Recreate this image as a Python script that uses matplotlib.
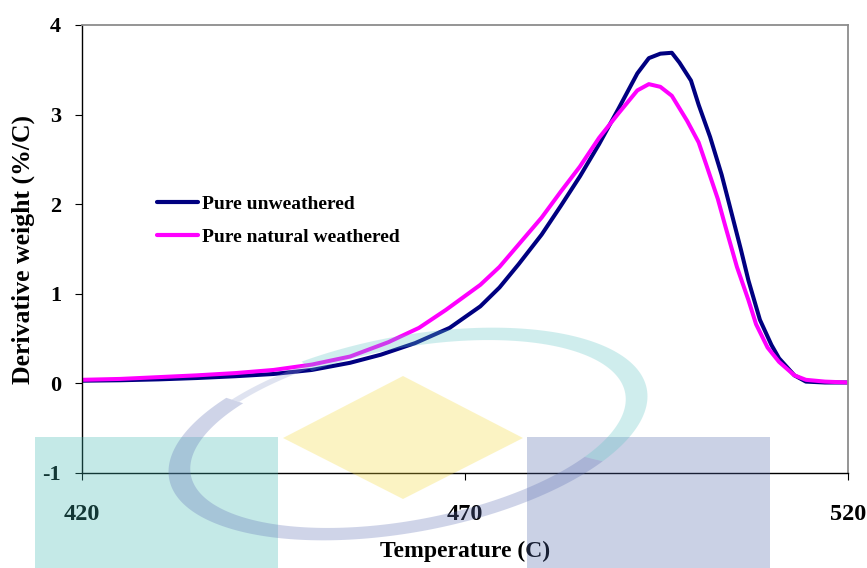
import numpy as np
import matplotlib
matplotlib.use("Agg")
import matplotlib.pyplot as plt
from matplotlib.patches import Rectangle, Polygon

# ---- data ----
temp_unweathered = [420, 425, 430, 435, 440, 445, 450, 455, 459, 463.5, 468, 472,
                    474.5, 477, 480, 482.5, 485, 487.5, 490, 492.5, 494, 495.5, 497,
                    498, 499.5, 500.5, 502, 503.5, 504.5, 506, 507, 508.5, 510, 511,
                    513, 514.5, 517, 520]
dw_unweathered = [0.03, 0.035, 0.045, 0.06, 0.08, 0.105, 0.15, 0.23, 0.32, 0.45, 0.62, 0.86,
                  1.07, 1.33, 1.66, 1.98, 2.31, 2.67, 3.06, 3.46, 3.63, 3.68, 3.69,
                  3.58, 3.38, 3.11, 2.75, 2.33, 2.00, 1.50, 1.15, 0.71, 0.43, 0.28,
                  0.09, 0.02, 0.01, 0.01]

temp_natural = [420, 425, 430, 435, 440, 445, 450, 455, 460, 464, 467.5, 472,
                474.5, 477, 480, 482.5, 485, 487.5, 490, 492.5, 494, 495.5, 497,
                499, 500.5, 501.5, 503, 504, 505.5, 507, 508, 509.5, 511, 513,
                514.5, 517, 520]
dw_natural = [0.04, 0.05, 0.07, 0.09, 0.115, 0.15, 0.21, 0.30, 0.46, 0.62, 0.82, 1.10,
              1.30, 1.55, 1.85, 2.14, 2.42, 2.74, 3.01, 3.27, 3.34, 3.31, 3.21,
              2.93, 2.69, 2.44, 2.06, 1.75, 1.30, 0.93, 0.66, 0.40, 0.24, 0.09,
              0.04, 0.02, 0.01]

labels = ["Pure unweathered", "Pure natural weathered"]
colors = ["#000080", "#FF00FF"]
x_ticks = [420, 470, 520]
y_ticks = [-1, 0, 1, 2, 3, 4]

W, H = 867, 568
serif = ["Liberation Serif", "DejaVu Serif"]

fig = plt.figure(figsize=(W / 100, H / 100), dpi=100)
ax = fig.add_axes([82 / W, (H - 473) / H, (848 - 82) / W, (473 - 25) / H])

ax.plot(temp_unweathered, dw_unweathered, color=colors[0], lw=2.9,
        solid_capstyle="round", solid_joinstyle="round", label=labels[0])
ax.plot(temp_natural, dw_natural, color=colors[1], lw=2.9,
        solid_capstyle="round", solid_joinstyle="round", label=labels[1])

ax.set_xlim(420, 520)
ax.set_ylim(-1, 4)
ax.set_xticks(x_ticks)
ax.set_yticks(y_ticks)
ax.set_xticklabels([str(t) for t in x_ticks], fontfamily=serif,
                   fontweight="bold", fontsize=17.5)
ax.set_yticklabels([str(t) for t in y_ticks], fontfamily=serif,
                   fontweight="bold", fontsize=16)
ax.tick_params(axis="x", direction="out", length=5, width=0.8, pad=17)
ax.tick_params(axis="y", direction="out", length=5, width=0.8, pad=10)

for side in ("left", "bottom"):
    ax.spines[side].set_color("black")
    ax.spines[side].set_linewidth(1.0)
for side in ("top", "right"):
    ax.spines[side].set_color("#8c8c8c")
    ax.spines[side].set_linewidth(1.3)

ax.set_xlabel("Temperature (C)", fontfamily=serif, fontweight="bold", fontsize=17)
ax.set_ylabel("Derivative weight (%/C)", fontfamily=serif, fontweight="bold", fontsize=18.5)
ax.xaxis.set_label_coords(0.5, (H - 551 - 95) / 448)
ax.xaxis.label.set_va("center")
ax.yaxis.set_label_coords((23 - 82) / 766, 0.5)
ax.yaxis.label.set_va("center")

leg = ax.legend(loc="upper left", bbox_to_anchor=(157 / W, 1 - 195 / H),
                bbox_transform=fig.transFigure, frameon=False,
                prop={"family": serif, "weight": "bold", "size": 14},
                handlelength=2.1, handletextpad=0.2, labelspacing=0.8,
                borderpad=0, borderaxespad=0)
for ln in leg.get_lines():
    ln.set_linewidth(3.0)

# ---- translucent emblem layered over the chart ----
wm = fig.add_axes([0, 0, 1, 1], zorder=10)
wm.set_xlim(0, W)
wm.set_ylim(H, 0)
wm.axis("off")
wm.patch.set_alpha(0)

a_wm = 0.3


def tint(rgb):
    # colour that lands on `rgb` when laid over white at alpha a_wm
    return tuple(np.clip((np.array(rgb) - (1 - a_wm) * 255) / a_wm, 0, 255) / 255)


wm.add_patch(Rectangle((35, 437), 243, 131, facecolor=tint((197, 234, 232)),
                       edgecolor="none", alpha=a_wm))
wm.add_patch(Rectangle((527, 437), 243, 131, facecolor=tint((203, 210, 230)),
                       edgecolor="none", alpha=a_wm))
wm.add_patch(Polygon([(283, 438), (403, 376), (523, 438), (403, 499)], closed=True,
                     facecolor=tint((252, 244, 196)), edgecolor="none", alpha=a_wm))

# elliptical swoosh: teal on the upper right, lavender on the lower left
cx, cy, th = 408, 434, np.deg2rad(10.7)
u = np.array([np.cos(th), -np.sin(th)])
v = np.array([np.sin(th), np.cos(th)])


def ring(t0, t1, ao=243, bo=98, ai=221, bi=86):
    t = np.deg2rad(np.linspace(t0, t1, 200))
    outer = np.array([cx, cy]) + np.outer(ao * np.cos(t), u) + np.outer(bo * np.sin(t), v)
    inner = np.array([cx, cy]) + np.outer(ai * np.cos(t), u) + np.outer(bi * np.sin(t), v)
    return np.vstack([outer, inner[::-1]])


wm.add_patch(Polygon(ring(-112, 40), closed=True, facecolor=tint((208, 238, 238)),
                     edgecolor="none", alpha=a_wm))
wm.add_patch(Polygon(ring(40, 225), closed=True, facecolor=tint((208, 213, 233)),
                     edgecolor="none", alpha=a_wm))
wm.add_patch(Polygon(ring(225, 248, ao=236, bo=94, ai=226, bi=89), closed=True,
                     facecolor=tint((224, 228, 241)), edgecolor="none", alpha=a_wm))

fig.savefig("out.png", dpi=100)
